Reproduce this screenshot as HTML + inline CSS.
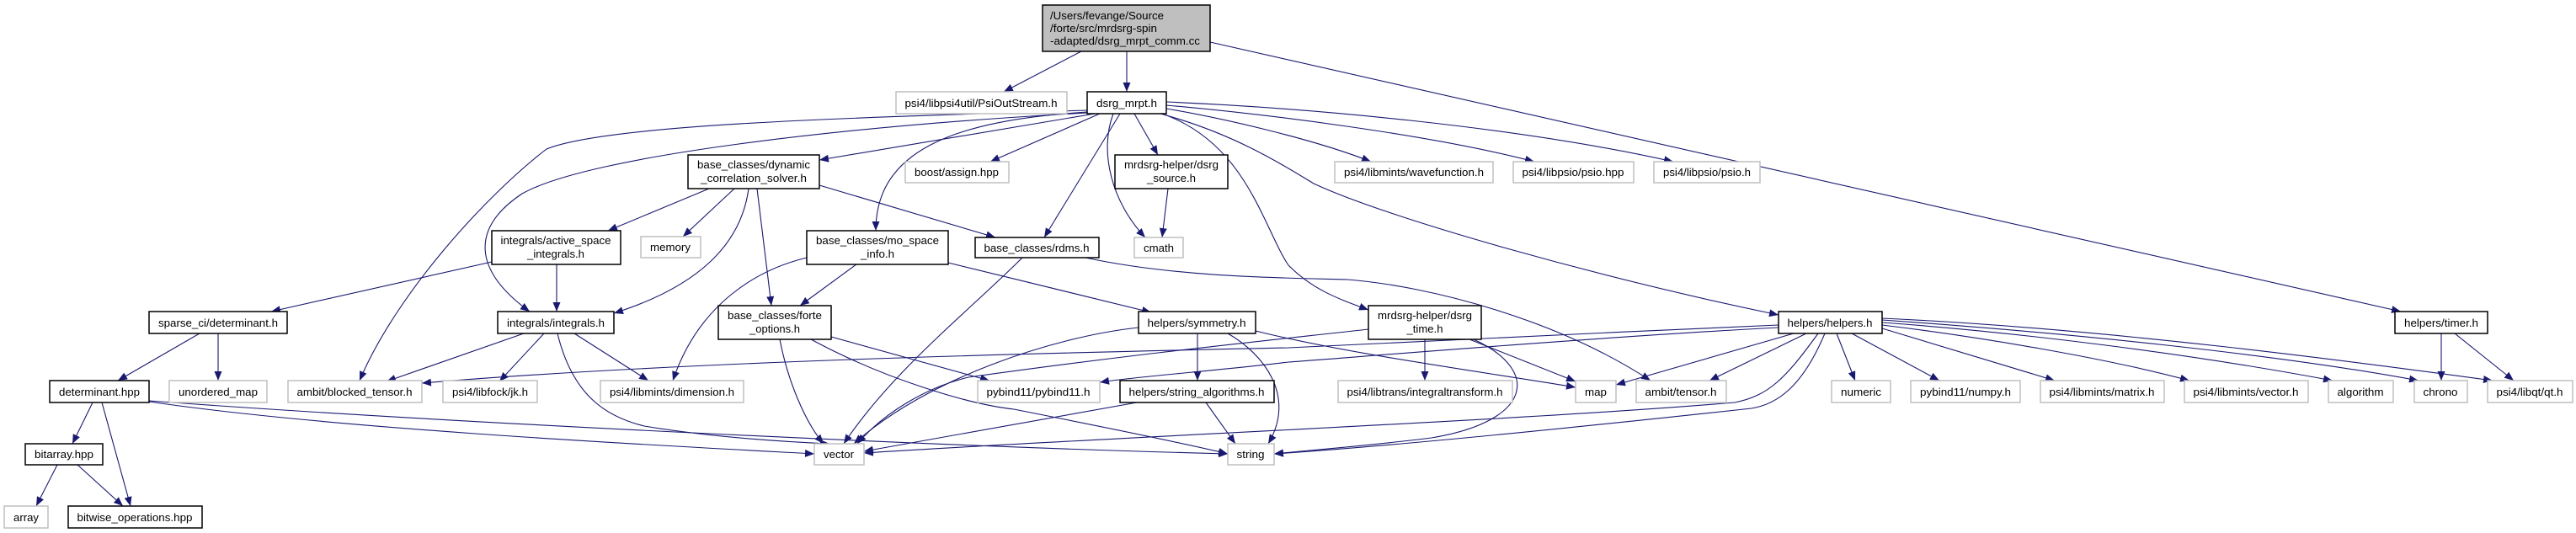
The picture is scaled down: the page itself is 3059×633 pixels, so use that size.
<!DOCTYPE html>
<html><head><meta charset="utf-8"><style>
html,body{margin:0;padding:0;background:#fff;}
svg{display:block;}
text{font-family:"Liberation Sans",sans-serif;font-size:13px;fill:#000;}
.g{fill:#fff;stroke:#bfbfbf;stroke-width:1.5;}
.b{fill:#fff;stroke:#000;stroke-width:1.5;}
.e{fill:none;stroke:#191970;stroke-width:1.1;marker-end:url(#a);}
</style></head><body>
<svg width="3059" height="633" viewBox="0 0 3059 633" xmlns="http://www.w3.org/2000/svg">
<defs><marker id="a" markerUnits="userSpaceOnUse" markerWidth="12" markerHeight="9" refX="11" refY="4.5" orient="auto"><path d="M0,0 L11,4.5 L0,9 z" fill="#191970"/></marker></defs>
<g>
<path class="e" d="M1284,61 L1192,109"/>
<path class="e" d="M1338,61 L1338,109"/>
<path class="e" d="M1437,50 L2851,370"/>
<path class="e" d="M1300,135 L973,190"/>
<path class="e" d="M1306,135 L1176,192"/>
<path class="e" d="M1347,135 L1375,184"/>
<path class="e" d="M1385,129 C1450,140 1560,165 1628,192"/>
<path class="e" d="M1385,125 C1500,135 1700,160 1822,192"/>
<path class="e" d="M1385,121 C1550,128 1800,150 1987,192"/>
<path class="e" d="M1330,135 L1240,282"/>
<path class="e" d="M1322,135 C1305,180 1320,240 1360,282"/>
<path class="e" d="M1291,133 C1130,143 1040,180 1040,274"/>
<path class="e" d="M1380,135 C1480,170 1500,270 1530,315 C1560,345 1590,355 1625,368"/>
<path class="e" d="M1378,135 C1470,160 1530,200 1560,218 C1650,260 1900,330 2112,374"/>
<path class="e" d="M1291,131 C1000,140 720,148 649,177 C576,233 470,350 427,452"/>
<path class="e" d="M1291,134 C1000,150 700,185 620,230 C560,270 560,320 629,370"/>
<path class="e" d="M842,224 L722,274"/>
<path class="e" d="M872,224 L811,281"/>
<path class="e" d="M889,224 C880,290 830,340 729,372"/>
<path class="e" d="M899,224 L916,363"/>
<path class="e" d="M973,220 L1182,282"/>
<path class="e" d="M1387,224 L1380,282"/>
<path class="e" d="M584,311 L322,370"/>
<path class="e" d="M661,314 L661,370"/>
<path class="e" d="M1017,314 L950,363"/>
<path class="e" d="M958,306 C900,320 830,360 799,452"/>
<path class="e" d="M1126,312 L1367,371"/>
<path class="e" d="M1214,306 C1150,370 1060,440 1002,527"/>
<path class="e" d="M1289,306 C1400,330 1530,330 1600,332 C1700,340 1850,380 1960,452"/>
<path class="e" d="M622,396 L459,453"/>
<path class="e" d="M646,396 L593,453"/>
<path class="e" d="M682,396 L770,452"/>
<path class="e" d="M662,396 C680,470 720,495 765,506 C850,520 940,525 985,527"/>
<path class="e" d="M237,396 L140,452"/>
<path class="e" d="M259,396 L259,452"/>
<path class="e" d="M110,478 L86,527"/>
<path class="e" d="M121,478 L155,601"/>
<path class="e" d="M177,477 C400,510 800,530 967,539"/>
<path class="e" d="M177,476 C500,500 1100,530 1458,539"/>
<path class="e" d="M68,552 L43,601"/>
<path class="e" d="M92,552 L146,601"/>
<path class="e" d="M926,403 C935,450 955,500 978,527"/>
<path class="e" d="M963,403 C1050,450 1150,480 1204,486 C1300,505 1400,525 1458,539"/>
<path class="e" d="M987,400 L1175,452"/>
<path class="e" d="M1352,389 C1250,400 1100,450 1014,527"/>
<path class="e" d="M1422,396 L1422,452"/>
<path class="e" d="M1458,396 C1500,420 1540,470 1506,527"/>
<path class="e" d="M1491,393 C1600,420 1750,440 1871,460"/>
<path class="e" d="M1350,478 L1026,536"/>
<path class="e" d="M1432,478 L1467,527"/>
<path class="e" d="M1692,403 L1692,452"/>
<path class="e" d="M1745,403 L1871,453"/>
<path class="e" d="M1750,403 C1830,440 1820,500 1700,520 C1620,530 1550,535 1513,539"/>
<path class="e" d="M1625,391 C1500,405 1350,420 1150,448 C1100,460 1050,490 1018,527"/>
<path class="e" d="M2112,386 C1900,395 1600,410 1530,413 C1200,420 800,430 501,455"/>
<path class="e" d="M2112,389 C1900,400 1600,425 1530,430 C1450,440 1350,447 1306,454"/>
<path class="e" d="M2130,396 L1919,457"/>
<path class="e" d="M2145,396 L2030,452"/>
<path class="e" d="M2159,396 C2120,450 2100,470 2060,478 C1800,500 1300,520 1026,538"/>
<path class="e" d="M2167,396 C2140,460 2110,480 2080,485 C1850,510 1650,530 1513,539"/>
<path class="e" d="M2181,396 L2203,452"/>
<path class="e" d="M2199,396 L2303,452"/>
<path class="e" d="M2235,390 L2440,452"/>
<path class="e" d="M2235,386 C2350,400 2500,425 2600,452"/>
<path class="e" d="M2235,383 C2400,395 2600,420 2770,452"/>
<path class="e" d="M2235,380 C2450,395 2700,420 2872,452"/>
<path class="e" d="M2235,378 C2500,390 2800,430 2960,452"/>
<path class="e" d="M2899,396 L2899,452"/>
<path class="e" d="M2915,396 L2985,452"/>
</g>
<g>
<rect x="1238" y="6" width="199" height="55" fill="#bfbfbf" stroke="#000" stroke-width="1.5"/>
<text x="1247" y="23" textLength="135" lengthAdjust="spacingAndGlyphs">/Users/fevange/Source</text>
<text x="1247" y="38" textLength="127" lengthAdjust="spacingAndGlyphs">/forte/src/mrdsrg-spin</text>
<text x="1247" y="53" textLength="178" lengthAdjust="spacingAndGlyphs">-adapted/dsrg_mrpt_comm.cc</text>
</g>
<g text-anchor="middle">
<rect class="g" x="1064" y="109" width="203" height="26"/><text x="1165" y="127" textLength="181" lengthAdjust="spacingAndGlyphs">psi4/libpsi4util/PsiOutStream.h</text>
<rect class="b" x="1291" y="109" width="94" height="26"/><text x="1338" y="127" textLength="72" lengthAdjust="spacingAndGlyphs">dsrg_mrpt.h</text>
<rect class="b" x="817" y="184" width="156" height="40"/><text x="895" y="200" textLength="134" lengthAdjust="spacingAndGlyphs">base_classes/dynamic</text><text x="895" y="216" textLength="126" lengthAdjust="spacingAndGlyphs">_correlation_solver.h</text>
<rect class="g" x="1075" y="192" width="123" height="25"/><text x="1136" y="209" textLength="100" lengthAdjust="spacingAndGlyphs">boost/assign.hpp</text>
<rect class="b" x="1324" y="184" width="134" height="40"/><text x="1391" y="200" textLength="112" lengthAdjust="spacingAndGlyphs">mrdsrg-helper/dsrg</text><text x="1391" y="216" textLength="58" lengthAdjust="spacingAndGlyphs">_source.h</text>
<rect class="g" x="1585" y="192" width="188" height="25"/><text x="1679" y="209" textLength="166" lengthAdjust="spacingAndGlyphs">psi4/libmints/wavefunction.h</text>
<rect class="g" x="1797" y="192" width="143" height="25"/><text x="1868" y="209" textLength="121" lengthAdjust="spacingAndGlyphs">psi4/libpsio/psio.hpp</text>
<rect class="g" x="1964" y="192" width="126" height="25"/><text x="2027" y="209" textLength="104" lengthAdjust="spacingAndGlyphs">psi4/libpsio/psio.h</text>
<rect class="b" x="584" y="274" width="153" height="40"/><text x="660" y="290" textLength="131" lengthAdjust="spacingAndGlyphs">integrals/active_space</text><text x="660" y="306" textLength="68" lengthAdjust="spacingAndGlyphs">_integrals.h</text>
<rect class="g" x="761" y="281" width="71" height="25"/><text x="796" y="298" textLength="48" lengthAdjust="spacingAndGlyphs">memory</text>
<rect class="b" x="958" y="274" width="168" height="40"/><text x="1042" y="290" textLength="146" lengthAdjust="spacingAndGlyphs">base_classes/mo_space</text><text x="1042" y="306" textLength="40" lengthAdjust="spacingAndGlyphs">_info.h</text>
<rect class="b" x="1158" y="282" width="147" height="24"/><text x="1231" y="299" textLength="125" lengthAdjust="spacingAndGlyphs">base_classes/rdms.h</text>
<rect class="g" x="1347" y="282" width="58" height="24"/><text x="1376" y="299" textLength="36" lengthAdjust="spacingAndGlyphs">cmath</text>
<rect class="b" x="177" y="370" width="164" height="26"/><text x="259" y="388" textLength="142" lengthAdjust="spacingAndGlyphs">sparse_ci/determinant.h</text>
<rect class="b" x="591" y="370" width="138" height="26"/><text x="660" y="388" textLength="116" lengthAdjust="spacingAndGlyphs">integrals/integrals.h</text>
<rect class="b" x="853" y="363" width="134" height="40"/><text x="920" y="379" textLength="112" lengthAdjust="spacingAndGlyphs">base_classes/forte</text><text x="920" y="395" textLength="60" lengthAdjust="spacingAndGlyphs">_options.h</text>
<rect class="b" x="1352" y="370" width="139" height="26"/><text x="1421" y="388" textLength="117" lengthAdjust="spacingAndGlyphs">helpers/symmetry.h</text>
<rect class="b" x="1625" y="363" width="134" height="40"/><text x="1692" y="379" textLength="112" lengthAdjust="spacingAndGlyphs">mrdsrg-helper/dsrg</text><text x="1692" y="395" textLength="43" lengthAdjust="spacingAndGlyphs">_time.h</text>
<rect class="b" x="2112" y="370" width="123" height="26"/><text x="2173" y="388" textLength="101" lengthAdjust="spacingAndGlyphs">helpers/helpers.h</text>
<rect class="b" x="2844" y="370" width="110" height="26"/><text x="2899" y="388" textLength="88" lengthAdjust="spacingAndGlyphs">helpers/timer.h</text>
<rect class="b" x="59" y="452" width="118" height="26"/><text x="118" y="470" textLength="96" lengthAdjust="spacingAndGlyphs">determinant.hpp</text>
<rect class="g" x="201" y="452" width="116" height="26"/><text x="259" y="470" textLength="94" lengthAdjust="spacingAndGlyphs">unordered_map</text>
<rect class="g" x="342" y="452" width="159" height="26"/><text x="421" y="470" textLength="137" lengthAdjust="spacingAndGlyphs">ambit/blocked_tensor.h</text>
<rect class="g" x="526" y="452" width="112" height="26"/><text x="582" y="470" textLength="90" lengthAdjust="spacingAndGlyphs">psi4/libfock/jk.h</text>
<rect class="g" x="713" y="452" width="170" height="26"/><text x="798" y="470" textLength="148" lengthAdjust="spacingAndGlyphs">psi4/libmints/dimension.h</text>
<rect class="g" x="1161" y="452" width="145" height="26"/><text x="1233" y="470" textLength="123" lengthAdjust="spacingAndGlyphs">pybind11/pybind11.h</text>
<rect class="b" x="1330" y="452" width="183" height="26"/><text x="1421" y="470" textLength="161" lengthAdjust="spacingAndGlyphs">helpers/string_algorithms.h</text>
<rect class="g" x="1589" y="452" width="207" height="26"/><text x="1692" y="470" textLength="185" lengthAdjust="spacingAndGlyphs">psi4/libtrans/integraltransform.h</text>
<rect class="g" x="1871" y="452" width="48" height="26"/><text x="1895" y="470" textLength="26" lengthAdjust="spacingAndGlyphs">map</text>
<rect class="g" x="1943" y="452" width="107" height="26"/><text x="1996" y="470" textLength="85" lengthAdjust="spacingAndGlyphs">ambit/tensor.h</text>
<rect class="g" x="2175" y="452" width="70" height="26"/><text x="2210" y="470" textLength="48" lengthAdjust="spacingAndGlyphs">numeric</text>
<rect class="g" x="2269" y="452" width="130" height="26"/><text x="2334" y="470" textLength="108" lengthAdjust="spacingAndGlyphs">pybind11/numpy.h</text>
<rect class="g" x="2423" y="452" width="147" height="26"/><text x="2496" y="470" textLength="125" lengthAdjust="spacingAndGlyphs">psi4/libmints/matrix.h</text>
<rect class="g" x="2594" y="452" width="147" height="26"/><text x="2667" y="470" textLength="125" lengthAdjust="spacingAndGlyphs">psi4/libmints/vector.h</text>
<rect class="g" x="2765" y="452" width="77" height="26"/><text x="2803" y="470" textLength="55" lengthAdjust="spacingAndGlyphs">algorithm</text>
<rect class="g" x="2867" y="452" width="63" height="26"/><text x="2898" y="470" textLength="41" lengthAdjust="spacingAndGlyphs">chrono</text>
<rect class="g" x="2954" y="452" width="101" height="26"/><text x="3004" y="470" textLength="79" lengthAdjust="spacingAndGlyphs">psi4/libqt/qt.h</text>
<rect class="b" x="30" y="527" width="92" height="25"/><text x="76" y="544" textLength="70" lengthAdjust="spacingAndGlyphs">bitarray.hpp</text>
<rect class="g" x="967" y="527" width="59" height="25"/><text x="996" y="544" textLength="36" lengthAdjust="spacingAndGlyphs">vector</text>
<rect class="g" x="1458" y="527" width="55" height="25"/><text x="1485" y="544" textLength="33" lengthAdjust="spacingAndGlyphs">string</text>
<rect class="g" x="5" y="601" width="52" height="26"/><text x="31" y="619" textLength="30" lengthAdjust="spacingAndGlyphs">array</text>
<rect class="b" x="81" y="601" width="159" height="26"/><text x="160" y="619" textLength="137" lengthAdjust="spacingAndGlyphs">bitwise_operations.hpp</text>
</g>
</svg>
</body></html>
